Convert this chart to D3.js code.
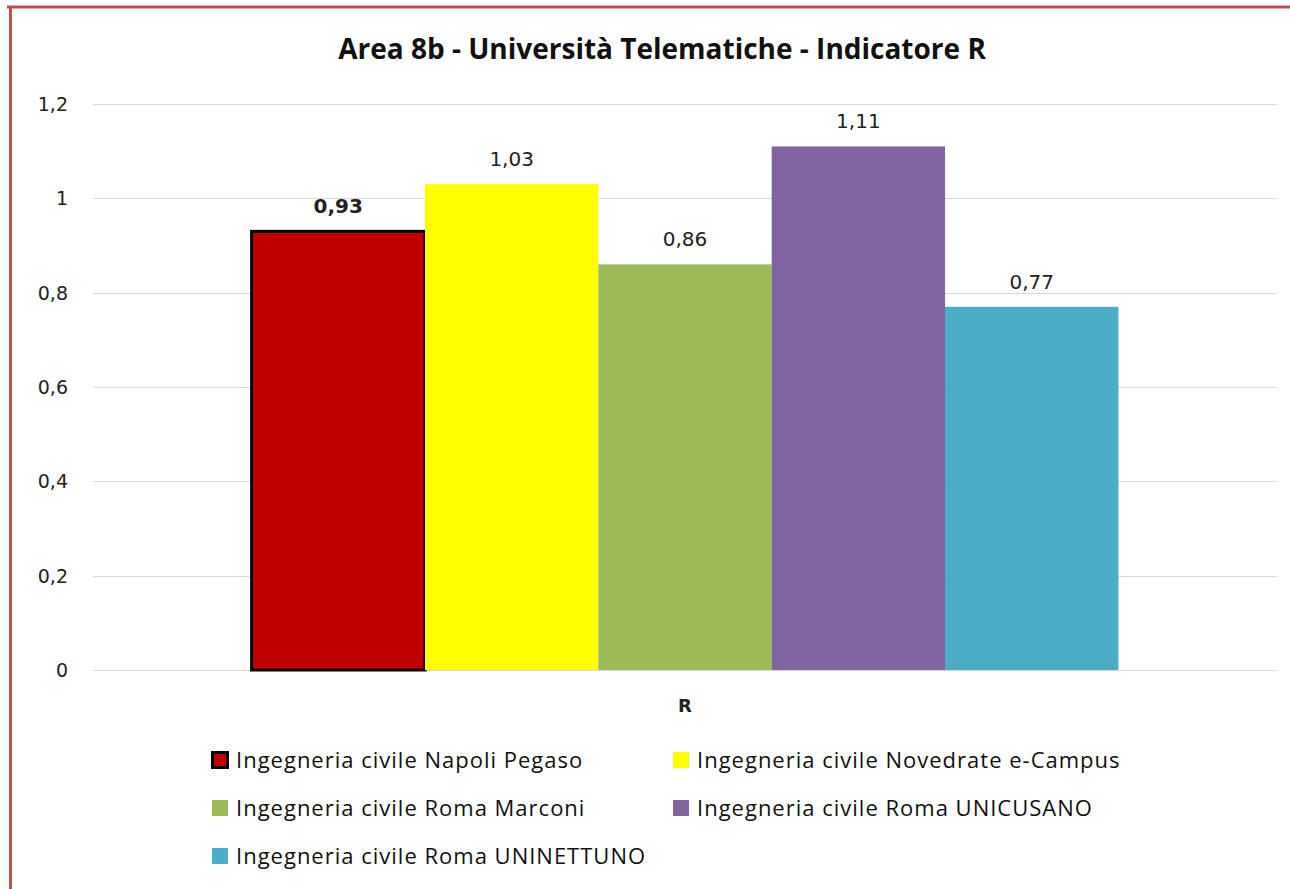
<!DOCTYPE html>
<html>
<head>
<meta charset="utf-8">
<script src="https://cdn.jsdelivr.net/npm/d3@7"></script>
<style>
  body { margin: 0; background: #fff; }
  svg { display: block; }
</style>
</head>
<body>
<div id="chart"></div>
<script>
let w = 1290;
let h = 889;

// data
let titleText = 'Area 8b - Università Telematiche - Indicatore R';
let category  = 'R';
let series    = ['Ingegneria civile Napoli Pegaso', 'Ingegneria civile Novedrate e-Campus',
                 'Ingegneria civile Roma Marconi', 'Ingegneria civile Roma UNICUSANO',
                 'Ingegneria civile Roma UNINETTUNO'];
let values    = [0.93, 1.03, 0.86, 1.11, 0.77];
let colors    = ['#C00000', '#FFFF00', '#9BBB59', '#8064A2', '#4BACC6'];
let yTicks    = [0, 0.2, 0.4, 0.6, 0.8, 1, 1.2];

let svg = d3.select('#chart').append('svg').attr('width', w).attr('height', h);

// frame
svg.append('line').attr('x1', 7).attr('x2', w).attr('y1', 7).attr('y2', 7)
    .attr('stroke', '#C0504D').attr('stroke-width', 3);
svg.append('line').attr('x1', 10.5).attr('x2', 10.5).attr('y1', 6).attr('y2', h)
    .attr('stroke', '#C0504D').attr('stroke-width', 3);

let plot = {left: 93, right: 1277, top: 104, bottom: 670};

let y  = d3.scaleLinear().domain([0, 1.2]).range([plot.bottom, plot.top]);
let x0 = d3.scaleBand().domain([category]).range([plot.left, plot.right]).paddingInner(0).paddingOuter(0.183);
let x1 = d3.scaleBand().domain(series).range([0, x0.bandwidth()]).padding(0);

let fmt = v => String(v).replace('.', ',');
let numFont = 'DejaVu Sans, Verdana, sans-serif';
let txtFont = '"Liberation Sans Narrow", "Open Sans", sans-serif';

// grid
svg.append('g').selectAll('line').data(yTicks).enter().append('line')
    .attr('x1', plot.left).attr('x2', plot.right)
    .attr('y1', d => Math.round(y(d)) + 0.5).attr('y2', d => Math.round(y(d)) + 0.5)
    .attr('stroke', '#D9D9D9').attr('stroke-width', 1);

// y labels
svg.append('g').selectAll('text').data(yTicks).enter().append('text')
    .attr('x', 68).attr('y', d => y(d) + 7)
    .attr('text-anchor', 'end')
    .style('font-family', numFont).style('font-size', '19px')
    .attr('fill', '#222')
    .text(d => fmt(d));

// bars
svg.append('g').selectAll('rect').data(series).enter().append('rect')
    .attr('x', d => x0(category) + x1(d))
    .attr('y', (d, i) => y(values[i]))
    .attr('width', x1.bandwidth())
    .attr('height', (d, i) => plot.bottom - y(values[i]))
    .attr('fill', (d, i) => colors[i])
    .attr('stroke', (d, i) => i == 0 ? '#000' : 'none')
    .attr('stroke-width', 3);

// value labels
svg.append('g').selectAll('text').data(series).enter().append('text')
    .attr('x', d => x0(category) + x1(d) + x1.bandwidth() / 2)
    .attr('y', (d, i) => y(values[i]) - 18)
    .attr('text-anchor', 'middle')
    .style('font-family', numFont).style('font-size', '20px')
    .style('font-weight', (d, i) => i == 0 ? 'bold' : 'normal')
    .attr('fill', '#222')
    .text((d, i) => fmt(values[i]));

// category label
svg.append('text')
    .attr('x', x0(category) + x0.bandwidth() / 2).attr('y', 712)
    .attr('text-anchor', 'middle')
    .style('font-family', numFont).style('font-size', '18px')
    .style('font-weight', 'bold').attr('fill', '#222')
    .text(category);

// title
svg.append('text')
    .attr('x', 662).attr('y', 59)
    .attr('text-anchor', 'middle')
    .style('font-family', txtFont).style('font-size', '28px')
    .style('font-weight', 'bold').attr('fill', '#111')
    .text(titleText);

// legend
let legPos = [[211, 760], [672, 760], [211, 808], [672, 808], [211, 856]];
let leg = svg.append('g').selectAll('g').data(series).enter().append('g')
    .attr('transform', (d, i) => 'translate(' + legPos[i].join(',') + ')');

leg.append('rect')
    .attr('x', (d, i) => i == 0 ? 1.5 : 1).attr('y', (d, i) => i == 0 ? -7.5 : -8)
    .attr('width', (d, i) => i == 0 ? 15 : 16).attr('height', (d, i) => i == 0 ? 15 : 16)
    .attr('fill', (d, i) => colors[i])
    .attr('stroke', (d, i) => i == 0 ? '#000' : 'none').attr('stroke-width', 3);

leg.append('text')
    .attr('x', 25).attr('y', 8)
    .style('font-family', txtFont).style('font-size', '22px')
    .style('letter-spacing', '1px')
    .attr('fill', '#111')
    .text(d => d);
</script>
</body>
</html>
